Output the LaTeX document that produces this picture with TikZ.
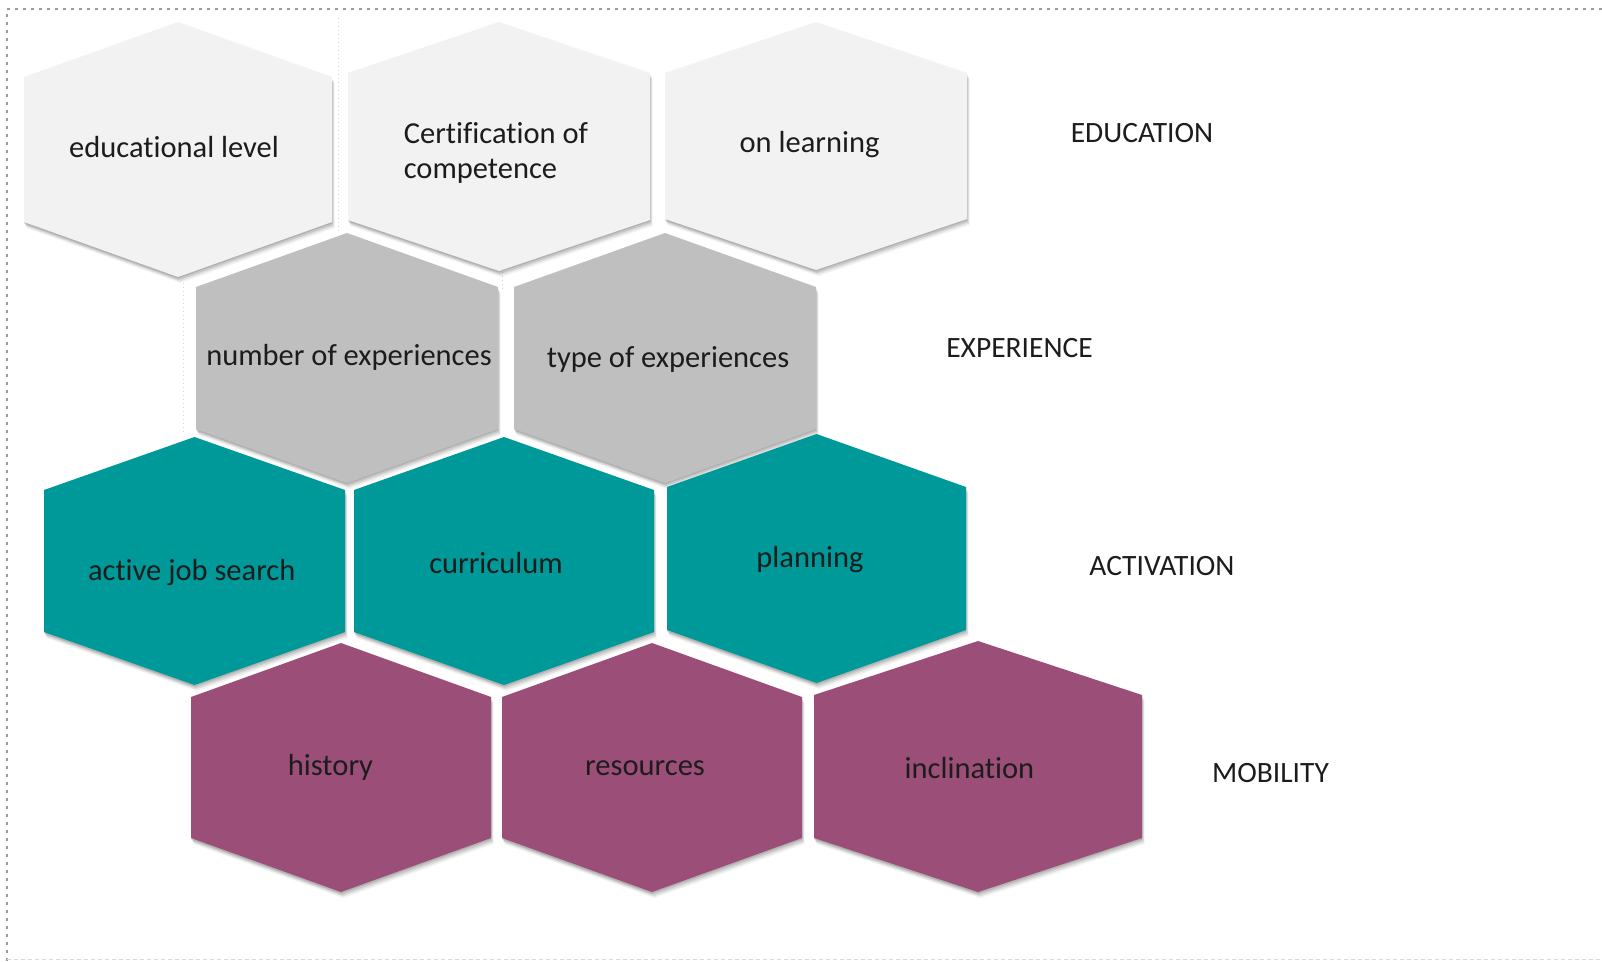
\documentclass[tikz,border=0pt]{standalone}
\usepackage{fontspec}
\setmainfont{Carlito}[Ligatures=NoCommon]
\definecolor{cellLight}{HTML}{F2F2F2}
\definecolor{cellGrey}{HTML}{BFBFBF}
\definecolor{cellTeal}{HTML}{009999}
\definecolor{cellPlum}{HTML}{9B4F78}
\definecolor{inkDark}{HTML}{1C1C1C}
\definecolor{frameGrey}{HTML}{9C9C9C}
\tikzset{
  lightcell/.style={fill=cellLight},
  greycell/.style={fill=cellGrey},
  tealcell/.style={fill=cellTeal},
  plumcell/.style={fill=cellPlum},
  celltext/.style={text=inkDark, font=\fontsize{30.5}{35}\selectfont, inner sep=0pt, anchor=base},
  rowlabel/.style={text=inkDark, font=\fontsize{29.5}{34}\selectfont, inner sep=0pt, anchor=base},
  frameline/.style={draw=frameGrey, line width=2.6pt, dash pattern=on 2.6pt off 5.4pt},
  faintframe/.style={draw=gray!30, line width=1pt, dash pattern=on 4pt off 3pt},
  guideline/.style={draw=gray!35, line width=0.8pt, dash pattern=on 1pt off 3pt},
}
% #1 left, #2 right, #3 top, #4 bottom, #5 point height, #6 style
\newcommand{\hexcell}[6]{%
  \pgfmathsetmacro\hxc{(#1+#2)/2}%
  \foreach \sx/\sy/\op in {0/1.5/0.11,1/3/0.10,1.8/4.5/0.08,2.5/6/0.05}{%
    \fill[black,opacity=\op,shift={(\sx,\sy)}]
      (#1,#3+#5) -- (\hxc,#3) -- (#2,#3+#5) -- (#2,#4-#5) -- (\hxc,#4) -- (#1,#4-#5) -- cycle;
  }%
  \path[#6] (#1,#3+#5) -- (\hxc,#3) -- (#2,#3+#5) -- (#2,#4-#5) -- (\hxc,#4) -- (#1,#4-#5) -- cycle;
}
\begin{document}
\begin{tikzpicture}[x=1pt,y=-1pt]
\useasboundingbox (0,0) rectangle (1602,961);
\fill[white] (0,0) rectangle (1602,961);
% frame
\coordinate (frameTL) at (7,9);
\coordinate (frameTR) at (1602,9);
\coordinate (frameBL) at (7,961);
\coordinate (frameBL2) at (7,959.5);
\coordinate (frameBR) at (1602,959.5);
\draw[frameline] (frameTR) -- (frameTL) -- (frameBL);
\draw[faintframe] (frameBL2) -- (frameBR);
% faint guide lines
\coordinate (g1a) at (338,18);
\coordinate (g1b) at (338,232);
\coordinate (g2a) at (502,228);
\coordinate (g2b) at (502,290);
\coordinate (g3a) at (183,283);
\coordinate (g3b) at (183,432);
\draw[guideline] (g1a) -- (g1b);
\draw[guideline] (g2a) -- (g2b);
\draw[guideline] (g3a) -- (g3b);
% row 1
\hexcell{24}{332}{22}{277}{55}{lightcell}
\hexcell{348}{650}{22}{271}{51}{lightcell}
\hexcell{665}{967}{22}{270}{51}{lightcell}
% row 2
\hexcell{196}{498}{233}{483}{54}{greycell}
\hexcell{514}{816}{233}{483}{54}{greycell}
% row 3
\hexcell{44}{345}{437}{685}{53}{tealcell}
\hexcell{354}{654}{437}{685}{53}{tealcell}
\hexcell{667}{966}{434}{683}{53}{tealcell}
% row 4
\hexcell{191}{491}{643}{892}{54}{plumcell}
\hexcell{502}{802}{643}{892}{54}{plumcell}
\hexcell{814}{1142}{641}{892}{54}{plumcell}
% texts
\node[celltext] (edlevel) at (174,157) {educational level};
\node[celltext, anchor=base west] (cert1) at (403.6,143) {Certification of};
\node[celltext, anchor=base west] (cert2) at (403.6,178) {competence};
\node[celltext] (onlearn) at (809.5,152) {on learning};
\node[celltext] (numexp) at (349,365) {number of experiences};
\node[celltext] (typeexp) at (668,367) {type of experiences};
\node[celltext] (jobsearch) at (191.7,580) {active job search};
\node[celltext] (curric) at (496,573) {curriculum};
\node[celltext] (plan) at (810,567) {planning};
\node[celltext] (hist) at (330.5,775) {history};
\node[celltext] (resrc) at (645,775) {resources};
\node[celltext] (inclin) at (969.5,778) {inclination};
% row labels
\node[rowlabel] (lbledu) at (1142,142) {EDUCATION};
\node[rowlabel] (lblexp) at (1019.5,357.5) {EXPERIENCE};
\node[rowlabel] (lblact) at (1162,575.5) {ACTIVATION};
\node[rowlabel] (lblmob) at (1270.5,782) {MOBILITY};
\end{tikzpicture}
\end{document}
